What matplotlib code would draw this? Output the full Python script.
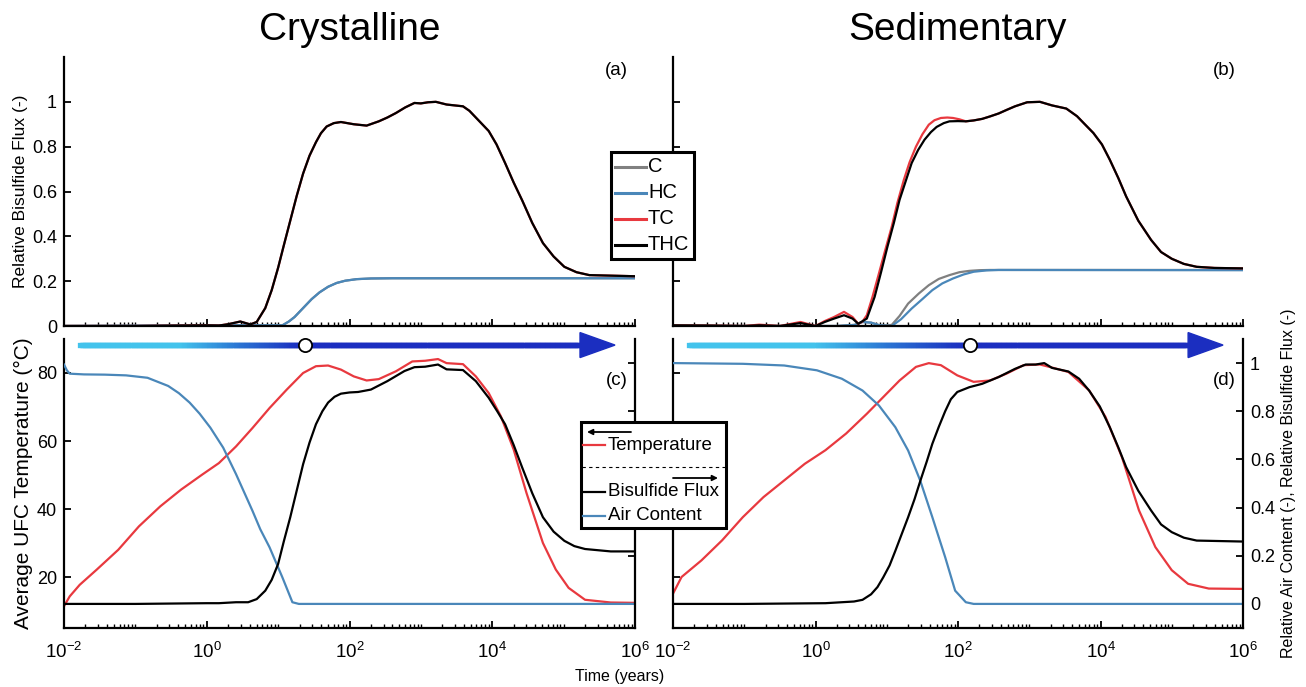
import numpy as np
import matplotlib.pyplot as plt
from matplotlib.collections import LineCollection
from matplotlib.colors import LinearSegmentedColormap
from matplotlib.patches import Polygon, Rectangle
from matplotlib.ticker import FixedLocator, NullFormatter

plt.rcParams['font.family'] = ['Liberation Sans', 'DejaVu Sans']
plt.rcParams['mathtext.fontset'] = 'custom'
plt.rcParams['mathtext.rm'] = 'Liberation Sans'
plt.rcParams['mathtext.default'] = 'regular'

# ---- data (log10 of time in years) ----
# (a) crystalline, relative bisulfide flux
a_thc_logt = [-2, -1, 0, 0.17, 0.3, 0.47, 0.61, 0.70, 0.82, 0.91, 1.0, 1.08, 1.17, 1.26, 1.35,
              1.44, 1.53, 1.60, 1.68, 1.78, 1.88, 2.06, 2.24, 2.41, 2.53, 2.65, 2.78, 2.91, 3.0,
              3.10, 3.21, 3.36, 3.59, 3.68, 3.77, 3.86, 3.95, 4.06, 4.18, 4.30, 4.42, 4.56, 4.71,
              4.86, 5.01, 5.18, 5.36, 6.0]
a_thc = [0, 0, 0.003, 0.002, 0.008, 0.02, 0.007, 0.018, 0.08, 0.16, 0.26, 0.36, 0.47, 0.58, 0.68,
         0.76, 0.82, 0.86, 0.89, 0.905, 0.91, 0.90, 0.894, 0.913, 0.93, 0.95, 0.975, 0.995, 0.993,
         0.998, 1.0, 0.988, 0.98, 0.96, 0.93, 0.90, 0.87, 0.81, 0.727, 0.64, 0.56, 0.46, 0.37,
         0.31, 0.264, 0.24, 0.227, 0.222]
a_tc_logt = list(a_thc_logt)
a_tc = list(a_thc)
a_hc_logt = [-2, 0.5, 1.06, 1.15, 1.23, 1.35, 1.47, 1.58, 1.70, 1.82, 1.94, 2.1, 2.3, 2.6, 6.0]
a_hc = [0, 0.003, 0.003, 0.02, 0.04, 0.08, 0.12, 0.15, 0.175, 0.192, 0.202, 0.209, 0.212, 0.213, 0.213]
a_c_logt = list(a_hc_logt)
a_c = list(a_hc)

# (b) sedimentary, relative bisulfide flux
b_thc_logt = [-2, -1.5, -1.0, -0.79, -0.5, -0.21, 0.0, 0.13, 0.26, 0.40, 0.52, 0.60, 0.72, 0.83,
              0.92, 1.01, 1.10, 1.18, 1.27, 1.35, 1.44, 1.53, 1.62, 1.70, 1.80, 1.88, 2.0, 2.11,
              2.22, 2.34, 2.45, 2.57, 2.69, 2.80, 2.97, 3.15, 3.32, 3.52, 3.67, 3.78, 3.90, 4.02,
              4.13, 4.25, 4.36, 4.53, 4.71, 4.85, 5.0, 5.17, 5.35, 5.6, 6.0]
b_thc = [0.003, 0.002, 0.0, 0.003, 0.0, 0.013, 0.0, 0.018, 0.033, 0.048, 0.033, 0.01, 0.033, 0.13,
         0.24, 0.354, 0.46, 0.563, 0.65, 0.727, 0.785, 0.831, 0.865, 0.888, 0.905, 0.913, 0.914,
         0.913, 0.917, 0.924, 0.935, 0.948, 0.965, 0.98, 0.998, 1.0, 0.984, 0.97, 0.936, 0.90,
         0.861, 0.81, 0.742, 0.66, 0.578, 0.47, 0.384, 0.33, 0.30, 0.277, 0.264, 0.259, 0.257]
b_tc_logt = [-2, -1.5, -1.0, -0.79, -0.5, -0.21, 0.0, 0.13, 0.26, 0.40, 0.52, 0.60, 0.66, 0.72,
             0.80, 0.89, 0.98, 1.07, 1.15, 1.24, 1.32, 1.41, 1.50, 1.59, 1.67, 1.76, 1.85, 1.93,
             2.02, 2.11, 2.22, 2.34, 2.45, 2.57, 2.69, 2.80, 2.97, 3.15, 3.32, 3.52, 3.67, 3.78,
             3.90, 4.02, 4.13, 4.25, 4.36, 4.53, 4.71, 4.85, 5.0, 5.17, 5.35, 5.6, 6.0]
b_tc = [0.003, 0.002, 0.0, 0.006, 0.0, 0.018, 0.0, 0.022, 0.04, 0.063, 0.04, 0.01, 0.02, 0.048,
        0.13, 0.234, 0.34, 0.443, 0.55, 0.652, 0.73, 0.80, 0.855, 0.898, 0.918, 0.928, 0.93, 0.928,
        0.922, 0.913, 0.917, 0.924, 0.935, 0.948, 0.965, 0.98, 0.998, 1.0, 0.984, 0.97, 0.936,
        0.90, 0.861, 0.81, 0.742, 0.66, 0.578, 0.47, 0.384, 0.33, 0.30, 0.277, 0.264, 0.259, 0.257]
b_c_logt = [-2, 0.3, 0.55, 0.66, 0.78, 0.9, 1.0, 1.07, 1.18, 1.30, 1.45, 1.59, 1.73, 1.88, 2.02,
            2.16, 2.30, 2.45, 6.0]
b_c = [0, 0, 0.005, 0.018, 0.015, 0.003, 0.003, 0.005, 0.045, 0.10, 0.145, 0.182, 0.21, 0.227,
       0.24, 0.246, 0.249, 0.25, 0.25]
b_hc_logt = [-2, 0.3, 0.55, 0.66, 0.78, 0.9, 1.07, 1.2, 1.35, 1.50, 1.64, 1.78, 1.93, 2.08, 2.22,
             2.40, 2.57, 6.0]
b_hc = [0, 0, 0.005, 0.018, 0.015, 0.003, 0.0, 0.03, 0.078, 0.12, 0.16, 0.19, 0.212, 0.23, 0.242,
        0.248, 0.25, 0.249]

# (c) crystalline: temperature (left axis), flux and air content (right axis)
c_temp_logt = [-2.0, -1.92, -1.78, -1.54, -1.24, -0.95, -0.65, -0.36, -0.065, 0.17, 0.41, 0.64,
               0.88, 1.12, 1.35, 1.53, 1.70, 1.88, 2.06, 2.24, 2.41, 2.65, 2.88, 3.06, 3.24, 3.36,
               3.59, 3.77, 3.95, 4.12, 4.30, 4.48, 4.71, 4.89, 5.07, 5.30, 5.66, 6.0]
c_temp = [11.4, 14.3, 17.7, 22.2, 28.0, 34.9, 40.8, 45.7, 50.1, 53.5, 58.4, 63.8, 69.7, 75.1, 80.0,
          82.0, 82.2, 81.0, 79.0, 77.8, 78.2, 80.5, 83.4, 83.6, 84.1, 82.9, 82.6, 79.0, 74.1, 67.3,
          57.5, 44.7, 30.0, 22.2, 16.8, 13.3, 12.5, 12.4]
c_flux_logt = [-2.0, -1.0, 0.0, 0.17, 0.41, 0.58, 0.70, 0.82, 0.91, 1.0, 1.08, 1.17, 1.26, 1.35,
               1.44, 1.53, 1.62, 1.70, 1.79, 1.88, 2.0, 2.12, 2.30, 2.53, 2.77, 2.91, 3.06, 3.24,
               3.36, 3.59, 3.77, 3.95, 4.07, 4.18, 4.30, 4.42, 4.56, 4.71, 4.86, 5.01, 5.15, 5.30,
               5.66, 6.0]
c_flux = [0, 0, 0.003, 0.003, 0.007, 0.007, 0.02, 0.055, 0.10, 0.166, 0.26, 0.36, 0.47, 0.58,
          0.67, 0.746, 0.80, 0.836, 0.86, 0.873, 0.878, 0.88, 0.89, 0.925, 0.967, 0.983, 0.985,
          0.994, 0.974, 0.971, 0.925, 0.856, 0.80, 0.746, 0.66, 0.566, 0.46, 0.36, 0.30, 0.262,
          0.24, 0.228, 0.218, 0.218]
c_air_logt = [-2.0, -1.96, -1.92, -1.72, -1.43, -1.13, -0.83, -0.54, -0.39, -0.24, -0.1, 0.05,
              0.23, 0.41, 0.64, 0.75, 0.88, 1.06, 1.20, 1.29, 6.0]
c_air = [0.994, 0.97, 0.956, 0.953, 0.952, 0.949, 0.939, 0.905, 0.875, 0.836, 0.79, 0.732, 0.649,
         0.539, 0.387, 0.31, 0.235, 0.11, 0.007, 0.0, 0.0]

# (d) sedimentary
d_temp_logt = [-2.0, -1.88, -1.60, -1.31, -1.02, -0.73, -0.44, -0.15, 0.14, 0.43, 0.72, 0.95, 1.18,
               1.41, 1.59, 1.76, 1.99, 2.22, 2.45, 2.68, 2.92, 3.15, 3.32, 3.55, 3.84, 4.07, 4.30,
               4.54, 4.77, 5.0, 5.23, 5.52, 6.0]
d_temp = [15.1, 20.0, 24.9, 30.8, 37.6, 43.5, 48.4, 53.3, 57.3, 62.2, 68.0, 72.9, 77.8, 81.8, 82.9,
          82.3, 79.3, 77.4, 77.8, 79.8, 82.3, 82.5, 81.6, 80.3, 74.9, 67.1, 55.3, 39.6, 28.8, 22.0,
          18.0, 16.6, 16.5]
d_flux_logt = [-2.0, -1.0, 0.14, 0.54, 0.66, 0.78, 0.87, 0.95, 1.04, 1.12, 1.21, 1.30, 1.39, 1.47,
               1.56, 1.64, 1.73, 1.82, 1.90, 1.99, 2.16, 2.34, 2.57, 2.80, 2.95, 3.09, 3.21, 3.32,
               3.55, 3.70, 3.84, 3.99, 4.13, 4.25, 4.36, 4.53, 4.71, 4.85, 5.0, 5.17, 5.35, 6.0]
d_flux = [0, 0, 0.003, 0.01, 0.017, 0.04, 0.07, 0.11, 0.16, 0.22, 0.29, 0.36, 0.435, 0.51, 0.59,
          0.665, 0.735, 0.80, 0.85, 0.88, 0.90, 0.914, 0.942, 0.976, 0.994, 0.994, 1.0, 0.98, 0.965,
          0.935, 0.886, 0.82, 0.734, 0.65, 0.568, 0.47, 0.388, 0.33, 0.298, 0.275, 0.263, 0.259]
d_air_logt = [-2.0, -1.02, -0.44, 0.02, 0.37, 0.66, 0.89, 1.12, 1.30, 1.47, 1.64, 1.82, 1.96, 2.11,
              2.22, 6.0]
d_air = [1.0, 0.997, 0.99, 0.97, 0.935, 0.886, 0.824, 0.734, 0.637, 0.512, 0.36, 0.194, 0.055,
         0.007, 0.0, 0.0]

# time when air is used up (white circle on the arrow)
circle_times = [24, 148]

rock_types = ['Crystalline', 'Sedimentary']
panel_tags = ['(a)', '(b)', '(c)', '(d)']
flux_names = ['C', 'HC', 'TC', 'THC']
flux_ticks = [0, 0.2, 0.4, 0.6, 0.8, 1.0]
flux_tick_labels = ['0', '0.2', '0.4', '0.6', '0.8', '1']
temp_ticks = [20, 40, 60, 80]
xtick_vals = [1e-2, 1e0, 1e2, 1e4, 1e6]
xtick_labels = ['$10^{-2}$', '$10^{0}$', '$10^{2}$', '$10^{4}$', '$10^{6}$']

GRAY = '#808080'
BLUE = '#4a87b9'
RED = '#e8393f'
BLACK = 'k'
flux_colors = [GRAY, BLUE, RED, BLACK]

W, H = 1306, 687
fig = plt.figure(figsize=(W / 100, H / 100), dpi=100)


def px_rect(x0, y0, x1, y1):
    return [x0 / W, 1 - y1 / H, (x1 - x0) / W, (y1 - y0) / H]


ax_a = fig.add_axes(px_rect(64, 57, 635, 326))
ax_b = fig.add_axes(px_rect(673, 57, 1243, 326))
ax_c = fig.add_axes(px_rect(64, 339, 635, 628))
ax_d = fig.add_axes(px_rect(673, 339, 1243, 628))
ax_c2 = ax_c.twinx()
ax_d2 = ax_d.twinx()

minor_x = [m * 10.0 ** e for e in range(-2, 6) for m in range(1, 10)
           if not (m == 1 and e % 2 == 0)]


def style_axes(ax, hide):
    ax.set_xscale('log')
    ax.set_xlim(1e-2, 1e6)
    ax.xaxis.set_major_locator(FixedLocator(xtick_vals))
    ax.xaxis.set_minor_locator(FixedLocator(minor_x))
    ax.xaxis.set_minor_formatter(NullFormatter())
    for s in hide:
        ax.spines[s].set_visible(False)
    for s in ax.spines.values():
        s.set_linewidth(1.6)
    ax.tick_params(which='major', direction='in', length=5, width=1.3, labelsize=13, pad=5)
    ax.tick_params(which='minor', direction='in', length=3, width=1.0)
    ax.tick_params(axis='x', which='major', pad=10, labelsize=13.5)


for ax in [ax_a, ax_b, ax_c, ax_d]:
    style_axes(ax, ['top', 'right'])
for ax in [ax_c2, ax_d2]:
    style_axes(ax, ['top', 'left', 'bottom'])

# top panels
top_data = [
    (ax_a, [(a_c_logt, a_c), (a_hc_logt, a_hc), (a_tc_logt, a_tc), (a_thc_logt, a_thc)]),
    (ax_b, [(b_c_logt, b_c), (b_hc_logt, b_hc), (b_tc_logt, b_tc), (b_thc_logt, b_thc)]),
]
for ax, series in top_data:
    for (lt, v), col in zip(series, flux_colors):
        ax.plot(10.0 ** np.array(lt), v, color=col, lw=1.6)
    ax.set_ylim(0, 1.2)
    ax.set_yticks(flux_ticks)
    ax.tick_params(labelbottom=False)
ax_a.set_yticklabels(flux_tick_labels)
ax_b.tick_params(labelleft=False)
ax_a.set_ylabel('Relative Bisulfide Flux (-)', fontsize=12.5)
ax_a.yaxis.set_label_coords(-0.063, 0.5)

# bottom panels
bottom_data = [
    (ax_c, ax_c2, c_temp_logt, c_temp, c_flux_logt, c_flux, c_air_logt, c_air),
    (ax_d, ax_d2, d_temp_logt, d_temp, d_flux_logt, d_flux, d_air_logt, d_air),
]
for ax, ax2, tl, tv, fl, fv, al, av in bottom_data:
    ax.plot(10.0 ** np.array(tl), tv, color=RED, lw=1.6)
    ax2.plot(10.0 ** np.array(al), av, color=BLUE, lw=1.6)
    ax2.plot(10.0 ** np.array(fl), fv, color=BLACK, lw=1.6)
    ax.set_ylim(5, 90)
    ax.set_yticks(temp_ticks)
    ax2.set_ylim(-0.1, 1.1)
    ax2.set_yticks(flux_ticks)
    ax.set_xticks(xtick_vals)
    ax.set_xticklabels(xtick_labels)
ax_c2.tick_params(labelright=False)
ax_d.tick_params(labelleft=False)
ax_d2.set_yticklabels(flux_tick_labels)
ax_c.set_ylabel('Average UFC Temperature (°C)', fontsize=15)
ax_c.yaxis.set_label_coords(-0.054, 0.5)
ax_d2.set_ylabel('Relative Air Content (-), Relative Bisulfide Flux (-)', fontsize=11.5)
ax_d2.yaxis.set_label_coords(1.067, 0.5)

for ax, name in zip([ax_a, ax_b], rock_types):
    ax.text(0.5, 1.10, name, transform=ax.transAxes, ha='center', va='center', fontsize=28)
for ax, tag, ty in zip([ax_a, ax_b, ax_c2, ax_d2], panel_tags, [0.948, 0.948, 0.855, 0.855]):
    ax.text(0.988, ty, tag, transform=ax.transAxes, ha='right', va='center', fontsize=13.5)

fig.text(620 / W, 1 - 677 / H, 'Time (years)', ha='center', va='center', fontsize=11.5)

# gradient arrow with circle marker
LIGHT = '#43c3ec'
DARK = '#1b2ec0'
grad = LinearSegmentedColormap.from_list(
    'arrow', [(0, LIGHT), (0.45, LIGHT), (0.7, '#2b78d4'), (0.95, '#1c36c2'), (1, DARK)])


def draw_arrow(ax, t_circle):
    y = 0.979
    x0 = 0.028
    tip = 0.965
    base = tip - 35 / 571
    hh = 12.5 / 289
    xc = ax.transAxes.inverted().transform(ax.transData.transform((t_circle, 0)))[0]
    xs = np.linspace(x0, base, 300)
    segs = [[(xs[i], y), (xs[i + 1], y)] for i in range(len(xs) - 1)]
    s = np.clip((xs[:-1] - x0) / (xc - x0), 0, 1)
    lc = LineCollection(segs, colors=grad(s), linewidths=3.8, transform=ax.transAxes,
                        clip_on=False, capstyle='projecting', zorder=8)
    ax.add_collection(lc)
    ax.add_patch(Polygon([[base, y + hh], [tip, y], [base, y - hh]], closed=True,
                         transform=ax.transAxes, clip_on=False, color=DARK, zorder=8))
    ax.plot([xc], [y], 'o', transform=ax.transAxes, mfc='white', mec='k', ms=9.5, mew=1.3,
            clip_on=False, zorder=9)


draw_arrow(ax_c2, circle_times[0])
draw_arrow(ax_d2, circle_times[1])

# legends drawn in pixel coordinates on an overlay
ov = fig.add_axes([0, 0, 1, 1], zorder=20)
ov.set_xlim(0, W)
ov.set_ylim(H, 0)
ov.axis('off')

ov.add_patch(Rectangle((611, 152), 83, 107, facecolor='white', edgecolor='k', lw=2.2))
for i, (name, col) in enumerate(zip(flux_names, flux_colors)):
    yy = 167 + i * 26
    ov.plot([615, 646], [yy, yy], color=col, lw=2.2)
    ov.text(648, yy, name, va='center', ha='left', fontsize=14.5)

ov.add_patch(Rectangle((581, 422), 145, 106, facecolor='white', edgecolor='k', lw=2.2))
ov.annotate('', xy=(587, 432), xytext=(631, 432),
            arrowprops=dict(arrowstyle='-|>', lw=1.3, color='k', mutation_scale=8,
                            shrinkA=0, shrinkB=0))
ov.plot([583, 605], [445, 445], color=RED, lw=1.6)
ov.text(608, 445, 'Temperature', va='center', ha='left', fontsize=13.5)
ov.plot([582, 725], [467, 467], color='k', lw=0.8, ls=(0, (3, 3)))
ov.annotate('', xy=(718, 478), xytext=(673, 478),
            arrowprops=dict(arrowstyle='-|>', lw=1.3, color='k', mutation_scale=8,
                            shrinkA=0, shrinkB=0))
ov.plot([583, 605], [492, 492], color=BLACK, lw=1.6)
ov.text(608, 492, 'Bisulfide Flux', va='center', ha='left', fontsize=13.5)
ov.plot([583, 605], [516, 516], color=BLUE, lw=1.6)
ov.text(608, 516, 'Air Content', va='center', ha='left', fontsize=13.5)

fig.savefig('out.png', dpi=100)
